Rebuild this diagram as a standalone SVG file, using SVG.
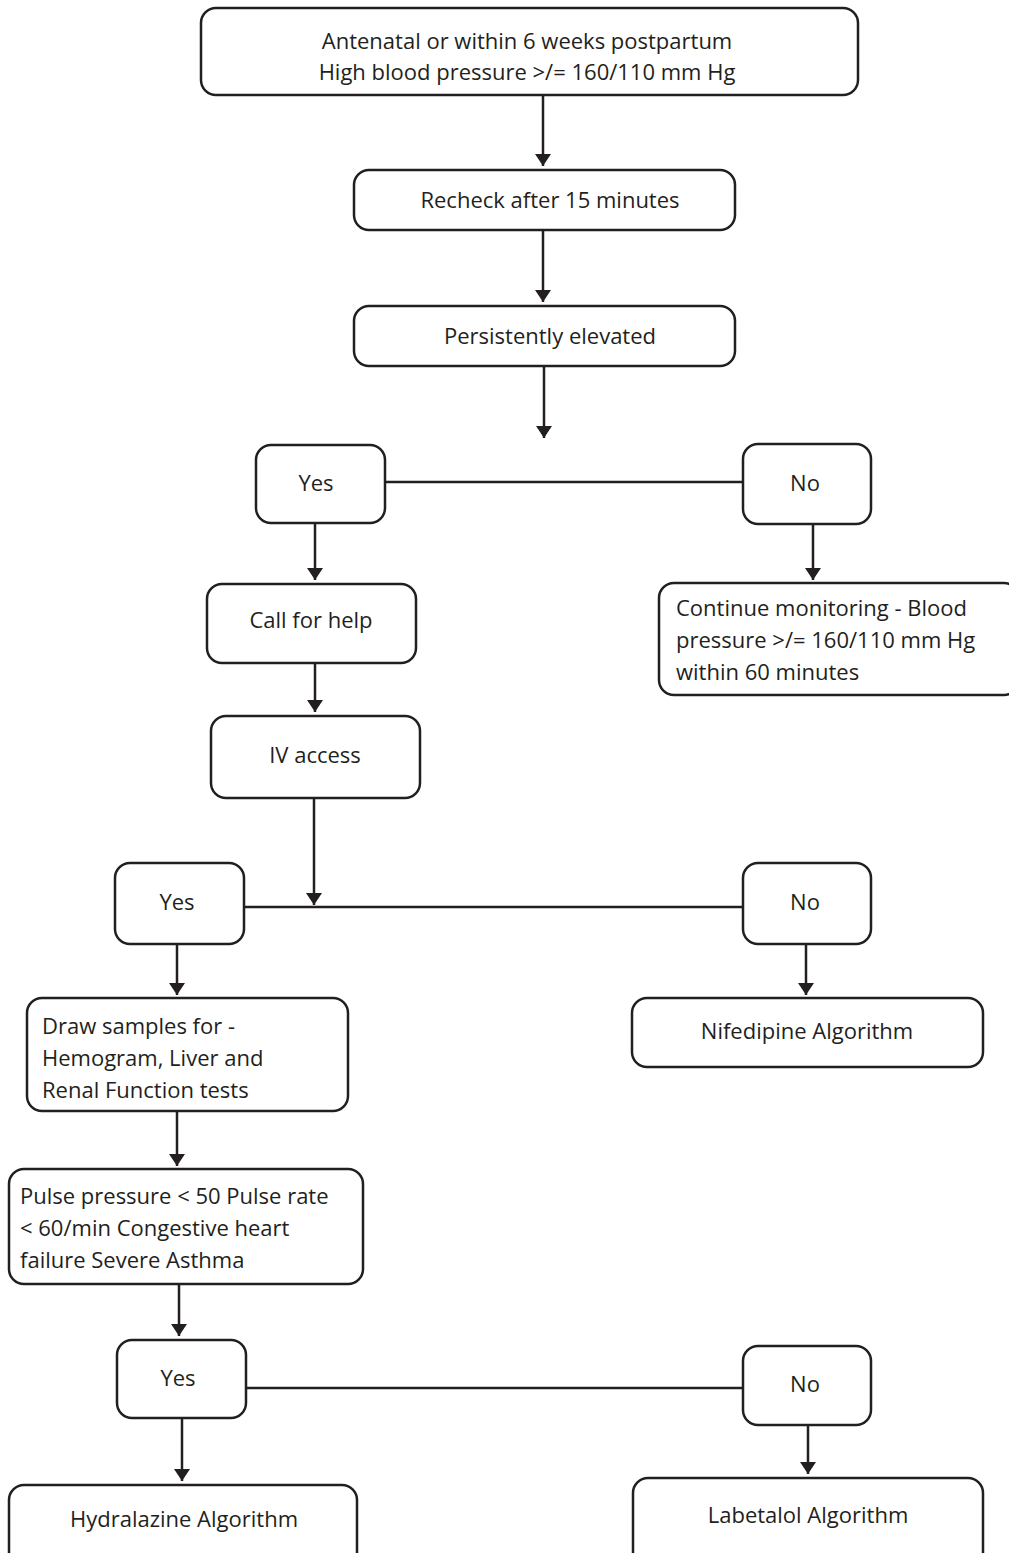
<svg xmlns="http://www.w3.org/2000/svg" width="1009" height="1553" viewBox="0 0 1009 1553">
<defs>
<marker id="ah" viewBox="0 0 12 16" refX="12" refY="8" markerWidth="12" markerHeight="16" markerUnits="userSpaceOnUse" orient="auto">
<path d="M0,0 L12,8 L0,16 z" fill="#231f20"/>
</marker>
<style>
.box{fill:#fff;stroke:#231f20;stroke-width:2.5}
.t{font-family:"Open Sans","Noto Sans",sans-serif;font-size:22px;fill:#231f20}
.c{text-anchor:middle}
.ln{stroke:#231f20;stroke-width:2.5;fill:none}
.ar{stroke:#231f20;stroke-width:2.5;fill:none;marker-end:url(#ah)}
</style>
</defs>
<rect width="1009" height="1553" fill="#fff"/>
<g id="connectors">
<line class="ar" x1="543" y1="95" x2="543" y2="166"/>
<line class="ar" x1="543" y1="230" x2="543" y2="302"/>
<line class="ar" x1="544" y1="366" x2="544" y2="438"/>
<line class="ln" x1="385" y1="482" x2="743" y2="482"/>
<line class="ar" x1="315" y1="523" x2="315" y2="580"/>
<line class="ar" x1="813" y1="525" x2="813" y2="580"/>
<line class="ar" x1="315" y1="663" x2="315" y2="712"/>
<line class="ar" x1="314" y1="798" x2="314" y2="905"/>
<line class="ln" x1="244" y1="907" x2="743" y2="907"/>
<line class="ar" x1="177" y1="944" x2="177" y2="995"/>
<line class="ar" x1="806" y1="944" x2="806" y2="995"/>
<line class="ar" x1="177" y1="1111" x2="177" y2="1166"/>
<line class="ar" x1="179" y1="1284" x2="179" y2="1336"/>
<line class="ln" x1="246" y1="1388" x2="743" y2="1388"/>
<line class="ar" x1="182" y1="1418" x2="182" y2="1481"/>
<line class="ar" x1="808" y1="1425" x2="808" y2="1474"/>
</g>
<g id="n1"><rect class="box" x="201" y="8" width="657" height="87" rx="15"/>
<text class="t c" x="527" y="49">Antenatal or within 6 weeks postpartum</text>
<text class="t c" x="527" y="80">High blood pressure &gt;/= 160/110 mm Hg</text></g>
<g id="n2"><rect class="box" x="354" y="170" width="381" height="60" rx="15"/>
<text class="t c" x="550" y="208">Recheck after 15 minutes</text></g>
<g id="n3"><rect class="box" x="354" y="306" width="381" height="60" rx="15"/>
<text class="t c" x="550" y="344">Persistently elevated</text></g>
<g id="yes1"><rect class="box" x="256" y="445" width="129" height="78" rx="15"/>
<text class="t c" x="316" y="491">Yes</text></g>
<g id="no1"><rect class="box" x="743" y="444" width="128" height="80" rx="15"/>
<text class="t c" x="805" y="491">No</text></g>
<g id="help"><rect class="box" x="207" y="584" width="209" height="79" rx="15"/>
<text class="t c" x="311" y="628">Call for help</text></g>
<g id="monitor"><rect class="box" x="659" y="583" width="360" height="112" rx="15"/>
<text class="t" x="676" y="616">Continue monitoring - Blood</text>
<text class="t" x="676" y="648">pressure &gt;/= 160/110 mm Hg</text>
<text class="t" x="676" y="680">within 60 minutes</text></g>
<g id="iv"><rect class="box" x="211" y="716" width="209" height="82" rx="15"/>
<text class="t c" x="315" y="763">IV access</text></g>
<g id="yes2"><rect class="box" x="115" y="863" width="129" height="81" rx="15"/>
<text class="t c" x="177" y="910">Yes</text></g>
<g id="no2"><rect class="box" x="743" y="863" width="128" height="81" rx="15"/>
<text class="t c" x="805" y="910">No</text></g>
<g id="samples"><rect class="box" x="27" y="998" width="321" height="113" rx="15"/>
<text class="t" x="42" y="1034">Draw samples for -</text>
<text class="t" x="42" y="1066">Hemogram, Liver and</text>
<text class="t" x="42" y="1098">Renal Function tests</text></g>
<g id="nifedipine"><rect class="box" x="632" y="998" width="351" height="69" rx="15"/>
<text class="t c" x="807" y="1039">Nifedipine Algorithm</text></g>
<g id="pulse"><rect class="box" x="9" y="1169" width="354" height="115" rx="15"/>
<text class="t" x="20" y="1204">Pulse pressure &lt; 50 Pulse rate</text>
<text class="t" x="20" y="1236">&lt; 60/min Congestive heart</text>
<text class="t" x="20" y="1268">failure Severe Asthma</text></g>
<g id="yes3"><rect class="box" x="117" y="1340" width="129" height="78" rx="15"/>
<text class="t c" x="178" y="1386">Yes</text></g>
<g id="no3"><rect class="box" x="743" y="1346" width="128" height="79" rx="15"/>
<text class="t c" x="805" y="1392">No</text></g>
<g id="hydralazine"><rect class="box" x="9" y="1485" width="348" height="90" rx="15"/>
<text class="t c" x="184" y="1527">Hydralazine Algorithm</text></g>
<g id="labetalol"><rect class="box" x="633" y="1478" width="350" height="90" rx="15"/>
<text class="t c" x="808" y="1523">Labetalol Algorithm</text></g>
</svg>
